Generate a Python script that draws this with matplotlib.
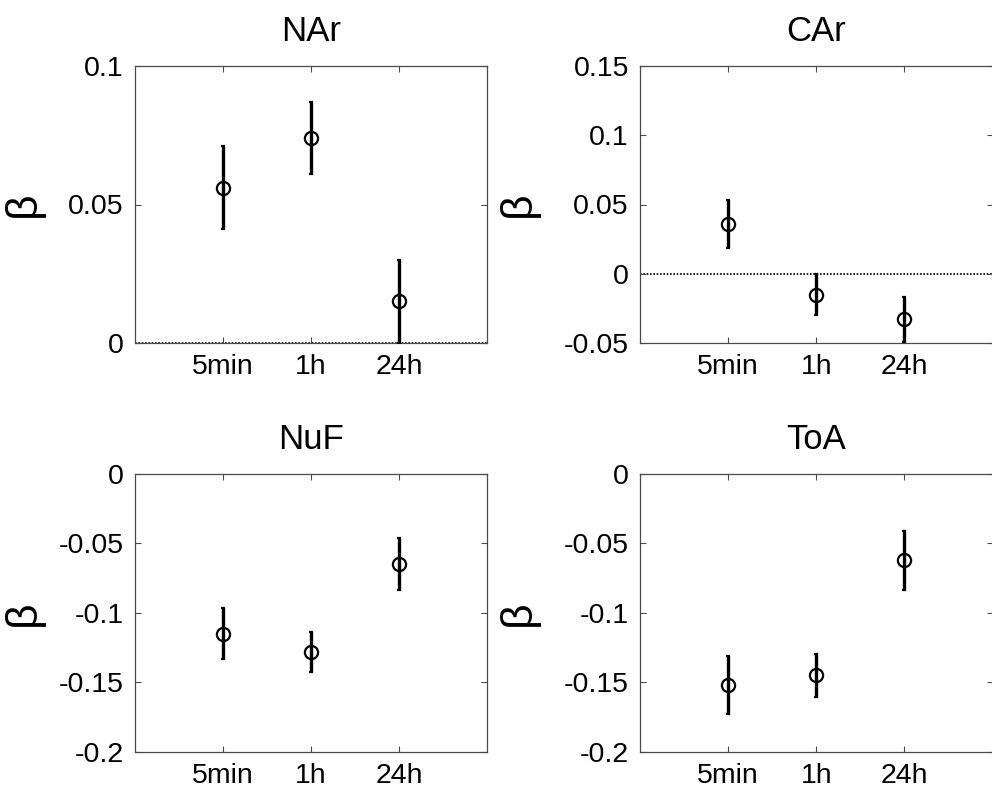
import matplotlib
matplotlib.use("Agg")
import matplotlib.pyplot as plt

plt.rcParams['font.family'] = ['Liberation Sans', 'DejaVu Sans']

# Time points after exposure
time_labels = ["5min", "1h", "24h"]
x_pos = [1, 2, 3]

# Regression coefficients (beta) and their error half-widths per measure
titles = ["NAr", "CAr", "NuF", "ToA"]

nar_beta = [0.056, 0.074, 0.015]
nar_err = [0.015, 0.013, 0.015]

car_beta = [0.036, -0.015, -0.033]
car_err = [0.0175, 0.0147, 0.0165]

nuf_beta = [-0.115, -0.128, -0.065]
nuf_err = [0.0185, 0.0144, 0.0186]

toa_beta = [-0.152, -0.145, -0.062]
toa_err = [0.0206, 0.0156, 0.0213]

y_limits = [(0, 0.1), (-0.05, 0.15), (-0.2, 0), (-0.2, 0)]
y_ticks = [[0, 0.05, 0.1], [-0.05, 0, 0.05, 0.1, 0.15],
           [-0.2, -0.15, -0.1, -0.05, 0], [-0.2, -0.15, -0.1, -0.05, 0]]
y_ticklabels = [["0", "0.05", "0.1"],
                ["-0.05", "0", "0.05", "0.1", "0.15"],
                ["-0.2", "-0.15", "-0.1", "-0.05", "0"],
                ["-0.2", "-0.15", "-0.1", "-0.05", "0"]]

betas = [nar_beta, car_beta, nuf_beta, toa_beta]
errs = [nar_err, car_err, nuf_err, toa_err]

W, H = 992, 786
fig = plt.figure(figsize=(W / 100, H / 100), dpi=100)

# axes boxes in pixels: left, right, top, bottom
boxes = [(135, 487, 66, 343), (640, 992.5, 66, 343),
         (135, 487, 474, 751.7), (640, 992.5, 474, 751.7)]
label_x = [-0.2585, -0.2855, -0.2585, -0.2855]

spine_color = "#4a4a4a"

for i, (l, r, t, b) in enumerate(boxes):
    ax = fig.add_axes([l / W, (H - b) / H, (r - l) / W, (b - t) / H])
    ax.axhline(0, color="black", linestyle=(0, (1, 1)), linewidth=1.2, zorder=1)
    ax.errorbar(x_pos, betas[i], yerr=errs[i], fmt="o", color="black",
                mfc="none", mec="black", markersize=9.5, mew=1.6,
                elinewidth=2.4, capsize=1.2, capthick=2.4, zorder=3,
                clip_on=True)
    ax.set_xlim(0, 4)
    ax.set_ylim(*y_limits[i])
    ax.set_xticks(x_pos)
    ax.set_xticklabels(time_labels)
    ax.set_yticks(y_ticks[i])
    ax.set_yticklabels(y_ticklabels[i])
    ax.tick_params(direction="in", top=True, right=True, length=4,
                   width=0.8, color=spine_color, labelsize=20.5, pad=8)
    for sp in ax.spines.values():
        sp.set_color(spine_color)
        sp.set_linewidth(0.9)
    ax.set_title(titles[i], fontsize=25, pad=18)
    ax.set_ylabel("β", fontsize=32)
    ax.yaxis.set_label_coords(label_x[i], 0.5)

fig.savefig("out.png", dpi=100, facecolor="white")
